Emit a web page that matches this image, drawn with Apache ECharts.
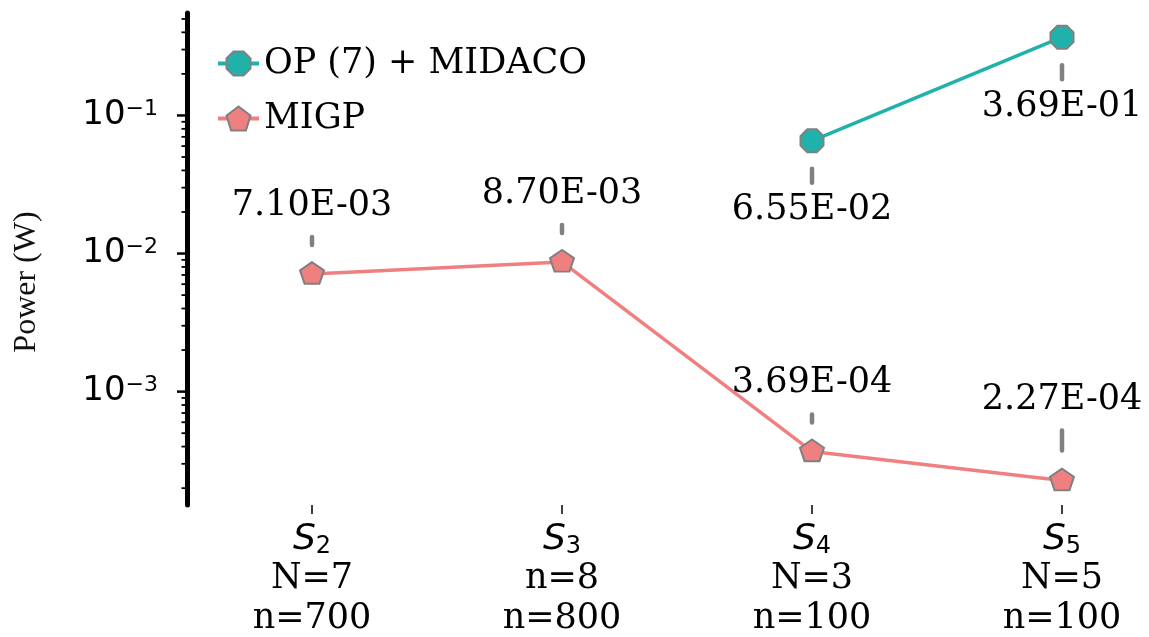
<!DOCTYPE html>
<html>
<head>
<meta charset="utf-8">
<script src="https://cdn.jsdelivr.net/npm/echarts@6/dist/echarts.min.js"></script>
<style>
  html, body { margin: 0; padding: 0; background: #fff; }
  #chart { width: 1149px; height: 637px; }
</style>
</head>
<body>
<div id="chart"></div>
<script>
// Scenario identifiers and their sub-lines under the x axis
const caseIndex = ['2', '3', '4', '5'];
const countLine = ['N=7', 'n=8', 'N=3', 'N=5'];
const sizeLine = ['n=700', 'n=800', 'n=100', 'n=100'];
const categories = caseIndex.map(k => 'S' + k);

// Power (W) per scenario
const opMidaco = [null, null, 6.55e-2, 3.69e-1];
const migp = [7.10e-3, 8.70e-3, 3.69e-4, 2.27e-4];

// Log axis decades that carry a label
const majorTicks = [1e-3, 1e-2, 1e-1];

const seriesNames = ['OP (7) + MIDACO', 'MIGP'];

// Label placement (pixel offsets from the marker) and leader dash extents
const opLabelDy = [0, 0, 69, 70];
const opDash = [null, null, [28, 42], [28, 42]];
const migpLabelDy = [-68, -68, -68.5, -81];
const migpDash = [[-37, -29], [-37, -29], [-37, -29], [-50, -30]];

const Y_MIN = 1.51e-4, Y_MAX = 0.552;

const octagonPath = 'path://M92.4,38.3L38.3,92.4L-38.3,92.4L-92.4,38.3L-92.4,-38.3L-38.3,-92.4L38.3,-92.4L92.4,-38.3Z';
const pentagonPath = 'path://M0,-100L-95.1,-30.9L-58.8,80.9L58.8,80.9L95.1,-30.9Z';

function toPairs(values) {
  const out = [];
  values.forEach((v, i) => { if (v != null) out.push([i, v]); });
  return out;
}

function sci(v) {
  const [m, e] = v.toExponential(2).split('e');
  const n = parseInt(e, 10);
  const sign = n < 0 ? '-' : '+';
  const abs = Math.abs(n);
  return m + 'E' + sign + (abs < 10 ? '0' + abs : '' + abs);
}

function minorTickValues() {
  const vals = [];
  for (let k = -4; k <= 0; k++) {
    for (let m = 2; m <= 9; m++) {
      const v = m * Math.pow(10, k);
      if (v > Y_MIN && v < Y_MAX) vals.push([0, v]);
    }
  }
  return vals;
}

function labelRenderer(dyList, dashList) {
  return function (params, api) {
    const idx = api.value(0);
    const v = api.value(1);
    const p = api.coord([idx, v]);
    const d = dashList[idx];
    return {
      type: 'group',
      children: [
        {
          type: 'line',
          shape: { x1: p[0], y1: p[1] + d[0], x2: p[0], y2: p[1] + d[1] },
          style: { stroke: '#808080', lineWidth: 4.5, lineCap: 'round' }
        },
        {
          type: 'text',
          style: {
            x: p[0], y: p[1] + dyList[idx], text: sci(v),
            font: '35px "DejaVu Serif"', fill: '#000',
            align: 'center', verticalAlign: 'middle'
          }
        }
      ]
    };
  };
}

function tickRenderer(len, width) {
  return function (params, api) {
    const p = api.coord([0, api.value(1)]);
    const x0 = params.coordSys.x;
    return {
      type: 'line',
      shape: { x1: x0 - len, y1: p[1], x2: x0, y2: p[1] },
      style: { stroke: '#000', lineWidth: width }
    };
  };
}

const chart = echarts.init(document.getElementById('chart'), null, { renderer: 'canvas' });

chart.setOption({
  animation: false,
  backgroundColor: '#fff',
  grid: { left: 187, top: 13, width: 1000, height: 492, outerBoundsMode: 'none', containLabel: false },
  legend: {
    orient: 'vertical',
    left: 216,
    top: 46,
    padding: 0,
    itemWidth: 41,
    itemHeight: 30,
    itemGap: 20,
    data: seriesNames,
    textStyle: { fontFamily: 'DejaVu Serif', fontSize: 35, color: '#000' },
    lineStyle: { width: 4 }
  },
  xAxis: {
    type: 'category',
    data: categories,
    boundaryGap: true,
    axisLine: { show: false },
    axisTick: { show: true, alignWithLabel: true, length: 9, lineStyle: { color: '#000', width: 1.5 } },
    splitLine: { show: false },
    axisLabel: {
      margin: 16,
      interval: 0,
      formatter: function (val, idx) {
        return '{s|S}{sub|' + caseIndex[idx] + '}\n{t|' + countLine[idx] + '}\n{t|' + sizeLine[idx] + '}';
      },
      rich: {
        s: { fontFamily: 'DejaVu Sans', fontStyle: 'italic', fontSize: 36, lineHeight: 38, color: '#000' },
        sub: { fontFamily: 'DejaVu Sans', fontSize: 24, lineHeight: 24, verticalAlign: 'bottom', color: '#000' },
        t: { fontFamily: 'DejaVu Serif', fontSize: 35, lineHeight: 40, color: '#000' }
      }
    }
  },
  yAxis: {
    type: 'log',
    logBase: 10,
    min: Y_MIN,
    max: Y_MAX,
    name: 'Power (W)',
    nameLocation: 'middle',
    nameGap: 144,
    nameTextStyle: { fontFamily: 'Liberation Serif', fontSize: 32, color: '#111', padding: [0, 46, 0, 0] },
    axisLine: { show: true, lineStyle: { color: '#000', width: 5 } },
    axisTick: { show: false },
    splitLine: { show: false },
    axisLabel: {
      margin: 29,
      formatter: function (v) {
        const e = Math.log10(v);
        const r = Math.round(e);
        if (Math.abs(e - r) > 1e-6) return '';
        return '{b|10}{sup|\u2212' + Math.abs(r) + '}';
      },
      rich: {
        b: { fontFamily: 'DejaVu Sans', fontSize: 34, lineHeight: 34, color: '#000' },
        sup: { fontFamily: 'DejaVu Sans', fontSize: 22, lineHeight: 20, verticalAlign: 'top', color: '#000' }
      }
    }
  },
  series: [
    {
      name: seriesNames[0],
      type: 'line',
      data: opMidaco.map(v => (v == null ? '-' : v)),
      connectNulls: false,
      symbol: octagonPath,
      symbolSize: 23,
      symbolKeepAspect: true,
      lineStyle: { color: '#20b2aa', width: 3.5 },
      itemStyle: { color: '#20b2aa', borderColor: '#808080', borderWidth: 2 },
      z: 3
    },
    {
      name: seriesNames[1],
      type: 'line',
      data: migp,
      symbol: pentagonPath,
      symbolSize: [24, 22.8],
      symbolOffset: [0, -1.1],
      symbolKeepAspect: true,
      lineStyle: { color: '#f08080', width: 3.5 },
      itemStyle: { color: '#f08080', borderColor: '#808080', borderWidth: 2 },
      z: 3
    },
    {
      name: 'op-labels',
      type: 'custom',
      data: toPairs(opMidaco),
      renderItem: labelRenderer(opLabelDy, opDash),
      silent: true,
      clip: false,
      z: 5
    },
    {
      name: 'migp-labels',
      type: 'custom',
      data: toPairs(migp),
      renderItem: labelRenderer(migpLabelDy, migpDash),
      silent: true,
      clip: false,
      z: 5
    },
    {
      name: 'major-ticks',
      type: 'custom',
      data: majorTicks.map(v => [0, v]),
      renderItem: tickRenderer(10, 2.5),
      silent: true,
      clip: false,
      z: 4
    },
    {
      name: 'minor-ticks',
      type: 'custom',
      data: minorTickValues(),
      renderItem: tickRenderer(5.5, 1.8),
      silent: true,
      clip: false,
      z: 4
    }
  ]
});
</script>
</body>
</html>
